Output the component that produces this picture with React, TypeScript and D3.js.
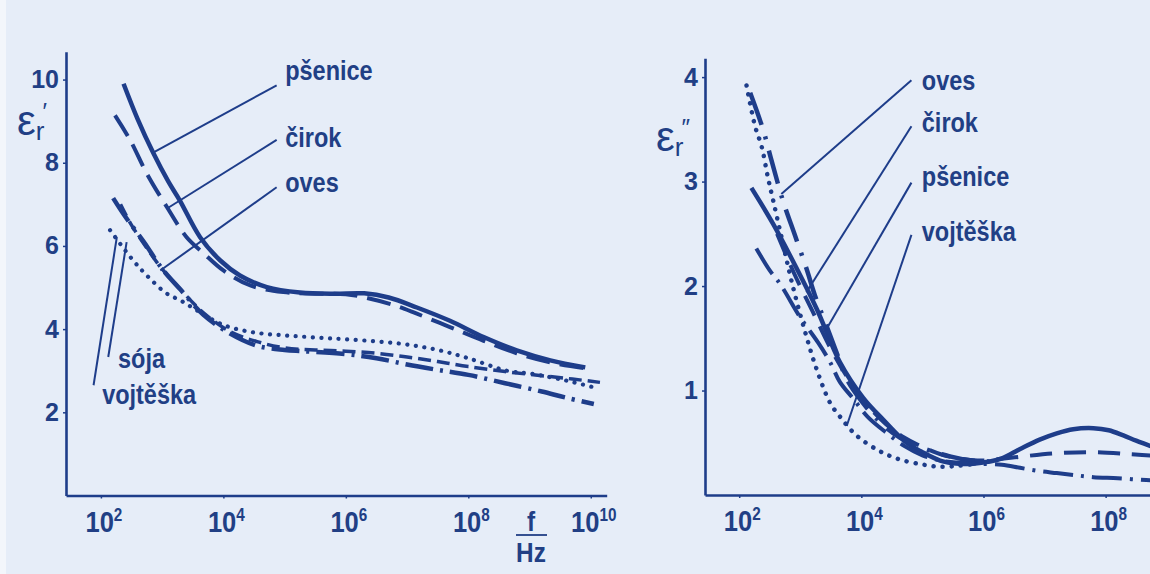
import { useEffect, useRef } from 'react'
import * as d3 from 'd3'

type Pt = [number, number] // [log10(f / Hz), value]

// --- left panel: relative permittivity eps_r'
const psenice1: Pt[] = [[2.37, 9.9], [2.6, 9.05], [2.86, 8.22], [3.1, 7.55], [3.29, 7.09], [3.62, 6.21], [3.95, 5.65], [4.27, 5.29], [4.71, 5.01], [5.25, 4.88], [5.8, 4.85], [6.3, 4.86], [6.7, 4.76], [7.16, 4.52], [7.7, 4.2], [8.25, 3.81], [8.79, 3.49], [9.34, 3.25], [9.91, 3.08]]
const cirok1: Pt[] = [[2.23, 9.14], [2.48, 8.54], [2.75, 7.74], [3.08, 6.93], [3.4, 6.21], [3.68, 5.82], [4.0, 5.41], [4.44, 5.05], [4.98, 4.89], [5.5, 4.85], [6.0, 4.84], [6.34, 4.75], [6.8, 4.57], [7.16, 4.37], [7.7, 4.05], [8.25, 3.72], [8.79, 3.42], [9.34, 3.2], [9.95, 3.05]]
const oves1: Pt[] = [[2.32, 7.0], [2.5, 6.5], [2.75, 5.95], [2.97, 5.5], [3.3, 4.95], [3.67, 4.4], [4.1, 3.95], [4.55, 3.7], [5.0, 3.55], [5.5, 3.5], [6.0, 3.47], [6.5, 3.42], [7.0, 3.33], [7.5, 3.22], [8.0, 3.1], [8.6, 2.98], [9.2, 2.88], [9.7, 2.8], [10.15, 2.72]]
const soja1: Pt[] = [[2.2, 7.15], [2.4, 6.7], [2.7, 6.1], [3.0, 5.45], [3.3, 4.95], [3.67, 4.35], [4.1, 3.9], [4.55, 3.6], [5.0, 3.5], [5.3, 3.47], [6.0, 3.4], [6.5, 3.3], [7.0, 3.15], [7.5, 3.02], [8.0, 2.9], [8.6, 2.7], [9.2, 2.5], [9.6, 2.35], [10.05, 2.2]]
const vojteska1: Pt[] = [[2.15, 6.38], [2.5, 5.7], [2.75, 5.29], [3.07, 4.86], [3.3, 4.69], [3.57, 4.45], [4.0, 4.1], [4.5, 3.92], [5.0, 3.85], [5.5, 3.8], [6.07, 3.75], [6.89, 3.65], [7.5, 3.5], [8.0, 3.3], [8.63, 3.0], [9.06, 2.92], [9.61, 2.76], [10.05, 2.6]]

// --- right panel: loss factor eps_r''
const psenice2: Pt[] = [[2.2, 2.94], [2.56, 2.59], [2.94, 2.17], [3.27, 1.78], [3.65, 1.27], [4.03, 0.93], [4.36, 0.72], [4.74, 0.5], [5.0, 0.41], [5.29, 0.33], [5.6, 0.3], [5.83, 0.3], [6.1, 0.32], [6.3, 0.35], [6.6, 0.44], [6.92, 0.53], [7.2, 0.59], [7.47, 0.63], [7.8, 0.64], [8.05, 0.62], [8.29, 0.57], [8.5, 0.52], [8.73, 0.47], [8.9, 0.43]]
const cirok2: Pt[] = [[2.62, 2.5], [2.9, 2.12], [3.2, 1.76], [3.5, 1.4], [3.8, 1.1], [4.1, 0.86], [4.4, 0.68], [4.7, 0.55], [5.0, 0.46], [5.3, 0.39], [5.6, 0.35], [5.9, 0.33], [6.2, 0.34], [6.65, 0.37], [7.2, 0.4], [7.8, 0.41], [8.4, 0.39], [8.9, 0.37]]
const oves2: Pt[] = [[2.18, 3.85], [2.39, 3.5], [2.53, 3.2], [2.72, 2.81], [2.91, 2.49], [3.1, 2.17], [3.24, 1.91], [3.43, 1.62], [3.59, 1.37], [3.76, 1.11], [4.0, 0.9], [4.3, 0.7], [4.63, 0.55], [5.0, 0.45], [5.45, 0.37], [5.8, 0.33], [6.1, 0.32]]
const soja2: Pt[] = [[2.28, 2.36], [2.5, 2.15], [2.67, 2.02], [3.0, 1.7], [3.29, 1.46], [3.49, 1.27], [3.65, 1.08], [3.87, 0.92], [4.1, 0.75], [4.4, 0.6], [4.7, 0.47], [5.0, 0.38], [5.3, 0.33], [5.6, 0.31], [5.9, 0.3], [6.3, 0.29], [6.6, 0.26], [6.9, 0.23], [7.2, 0.21], [7.5, 0.19], [7.8, 0.17], [8.2, 0.16], [8.73, 0.14], [8.9, 0.14]]
const vojteska2: Pt[] = [[2.12, 3.92], [2.26, 3.53], [2.37, 3.33], [2.47, 3.04], [2.56, 2.81], [2.7, 2.45], [2.86, 2.04], [3.08, 1.56], [3.27, 1.2], [3.49, 0.88], [3.65, 0.75], [3.92, 0.57], [4.3, 0.42], [4.63, 0.34], [5.02, 0.29], [5.29, 0.27], [5.6, 0.28], [5.9, 0.3]]

// ticks
const xTicksLeft = [2, 4, 6, 8, 10]
const xTicksRight = [2, 4, 6, 8]
const yTicksLeft = [2, 4, 6, 8, 10]
const yTicksRight = [1, 2, 3, 4]

// annotations (data units: log f, value)
const leftLabels = ['pšenice', 'čirok', 'oves', 'sója', 'vojtěška']
const leftLabelPos: Pt[] = [[5.01, 9.98], [5.01, 8.37], [5.01, 7.29], [2.28, 3.06], [2.02, 2.2]]
const leftLeaderFrom: Pt[] = [[4.87, 9.86], [4.87, 8.55], [4.87, 7.41], [2.12, 3.33], [1.88, 2.65]]
const leftLeaderTo: Pt[] = [[2.86, 8.25], [3.08, 6.9], [2.97, 5.41], [2.42, 6.09], [2.26, 6.21]]

const rightLabels = ['oves', 'čirok', 'pšenice', 'vojtěška']
const rightLabelPos: Pt[] = [[4.99, 3.88], [4.99, 3.47], [4.99, 2.96], [4.99, 2.43]]
const rightLeaderFrom: Pt[] = [[4.82, 3.97], [4.82, 3.53], [4.82, 2.99], [4.82, 2.49]]
const rightLeaderTo: Pt[] = [[2.69, 2.88], [3.1, 1.94], [3.43, 1.59], [3.76, 0.66]]

const INK = '#1e3d8a'
const TXT = '#213f85'
const BG = '#e6edf8'
const FONT = "'Liberation Sans', Arial, sans-serif"
const SQUEEZE = 0.87 // narrow bold lettering in the original

interface LineStyle {
  data: Pt[]
  dash: string | null
  width: number
  cap?: string
}

interface Panel {
  xDomain: [number, number]
  xRange: [number, number]
  yDomain: [number, number]
  yRange: [number, number]
  xTicks: number[]
  yTicks: number[]
  series: LineStyle[]
  labels: string[]
  labelPos: Pt[]
  from: Pt[]
  to: Pt[]
  symbolX: number
  symbolY: number
  prime: string
}

export default function App() {
  const ref = useRef<SVGSVGElement | null>(null)

  useEffect(() => {
    if (!ref.current) return
    const svg = d3.select(ref.current)
    svg.selectAll('*').remove()

    svg.append('rect').attr('width', 1150).attr('height', 574).attr('fill', BG)
    svg.append('rect').attr('width', 6).attr('height', 574).attr('fill', '#f3f6fb')

    const panels: Panel[] = [
      {
        xDomain: [10 ** 1.43, 10 ** 10.26],
        xRange: [66, 606.7],
        yDomain: [0, 10.67],
        yRange: [495.5, 51.7],
        xTicks: xTicksLeft,
        yTicks: yTicksLeft,
        series: [
          { data: psenice1, dash: null, width: 4.5 },
          { data: cirok1, dash: '24 10', width: 4 },
          { data: oves1, dash: '13 6', width: 3.5 },
          { data: soja1, dash: '28 7 3 7', width: 4.5 },
          { data: vojteska1, dash: '0.1 8.5', width: 4.2, cap: 'round' },
        ],
        labels: leftLabels,
        labelPos: leftLabelPos,
        from: leftLeaderFrom,
        to: leftLeaderTo,
        symbolX: 17,
        symbolY: 135,
        prime: '\u2032',
      },
      {
        xDomain: [10 ** 1.44, 10 ** 9.0],
        xRange: [705, 1166.7],
        yDomain: [0, 4.18],
        yRange: [495, 58.3],
        xTicks: xTicksRight,
        yTicks: yTicksRight,
        series: [
          { data: psenice2, dash: null, width: 4.5 },
          { data: cirok2, dash: '22 12', width: 4 },
          { data: oves2, dash: '34 12 3 12', width: 4.5 },
          { data: soja2, dash: '30 8 3 8', width: 4 },
          { data: vojteska2, dash: '0.1 9', width: 4.5, cap: 'round' },
        ],
        labels: rightLabels,
        labelPos: rightLabelPos,
        from: rightLeaderFrom,
        to: rightLeaderTo,
        symbolX: 656,
        symbolY: 151,
        prime: '\u2033',
      },
    ]

    panels.forEach((p) => {
      const x = d3.scaleLog().domain(p.xDomain).range(p.xRange)
      const y = d3.scaleLinear().domain(p.yDomain).range(p.yRange)
      const g = svg.append('g')

      // x axis
      const xAxis = g
        .append('g')
        .attr('transform', `translate(0,${p.yRange[0]})`)
        .call(
          d3
            .axisBottom(x)
            .tickValues(p.xTicks.map((e) => 10 ** e))
            .tickFormat(() => '')
            .tickSize(3)
            .tickSizeOuter(0),
        )
      xAxis.select('.domain').attr('stroke', INK).attr('stroke-width', 2.6)
      xAxis.selectAll('.tick line').attr('stroke', INK).attr('stroke-width', 1.5)

      const xl = g
        .selectAll('.xlab')
        .data(p.xTicks)
        .enter()
        .append('text')
        .attr('class', 'xlab')
        .attr('transform', (e) => `translate(${x(10 ** e) + 3},${p.yRange[0] + 36}) scale(0.85,1)`)
        .attr('text-anchor', 'middle')
        .attr('font-family', FONT)
        .attr('font-weight', 'bold')
        .attr('font-size', 30)
        .attr('fill', TXT)
      xl.append('tspan').text('10')
      xl.append('tspan')
        .attr('dy', -11)
        .attr('font-size', 18)
        .text((e) => String(e))

      // y axis
      const yAxis = g
        .append('g')
        .attr('transform', `translate(${p.xRange[0]},0)`)
        .call(
          d3
            .axisLeft(y)
            .tickValues(p.yTicks)
            .tickFormat(d3.format('d'))
            .tickSize(3)
            .tickSizeOuter(0),
        )
      yAxis.select('.domain').attr('stroke', INK).attr('stroke-width', 2.6)
      yAxis.selectAll('.tick line').attr('stroke', INK).attr('stroke-width', 1.5)
      yAxis
        .selectAll('.tick text')
        .attr('fill', TXT)
        .attr('font-family', FONT)
        .attr('font-weight', 'bold')
        .attr('font-size', 25)
        .attr('dx', -1)

      // curves
      const line = d3
        .line<Pt>()
        .x((d) => x(10 ** d[0]))
        .y((d) => y(d[1]))
        .curve(d3.curveCatmullRom.alpha(0.5))

      p.series.forEach((s) => {
        g.append('path')
          .attr('d', line(s.data) ?? '')
          .attr('fill', 'none')
          .attr('stroke', INK)
          .attr('stroke-width', s.width)
          .attr('stroke-dasharray', s.dash ?? null)
          .attr('stroke-linecap', s.cap ?? 'butt')
          .attr('stroke-linejoin', 'round')
      })

      // leader lines + labels
      g.selectAll('.leader')
        .data(p.labels)
        .enter()
        .append('line')
        .attr('class', 'leader')
        .attr('x1', (_, i) => x(10 ** p.from[i][0]))
        .attr('y1', (_, i) => y(p.from[i][1]))
        .attr('x2', (_, i) => x(10 ** p.to[i][0]))
        .attr('y2', (_, i) => y(p.to[i][1]))
        .attr('stroke', INK)
        .attr('stroke-width', 2)

      g.selectAll('.lab')
        .data(p.labels)
        .enter()
        .append('text')
        .attr('class', 'lab')
        .attr(
          'transform',
          (_, i) => `translate(${x(10 ** p.labelPos[i][0])},${y(p.labelPos[i][1])}) scale(${SQUEEZE},1)`,
        )
        .attr('font-family', FONT)
        .attr('font-weight', 'bold')
        .attr('font-size', 27)
        .attr('fill', TXT)
        .text((d) => d)

      // axis symbol eps_r
      const sym = g
        .append('text')
        .attr('x', p.symbolX)
        .attr('y', p.symbolY)
        .attr('font-family', FONT)
        .attr('font-size', 42)
        .attr('fill', TXT)
      sym.append('tspan').text('ε')
      sym.append('tspan').attr('font-size', 26).attr('dy', 5).text('r')
      sym.append('tspan').attr('font-size', 24).attr('dx', -2).attr('dy', -20).text(p.prime)
    })

    // f / Hz unit label under left axis
    const fx = 531
    const unit = svg
      .append('g')
      .attr('font-family', FONT)
      .attr('font-weight', 'bold')
      .attr('font-size', 28)
      .attr('fill', TXT)
      .attr('text-anchor', 'middle')
    unit.append('text').attr('transform', `translate(${fx},531) scale(${SQUEEZE},1)`).text('f')
    unit
      .append('line')
      .attr('x1', fx - 15)
      .attr('x2', fx + 16)
      .attr('y1', 535)
      .attr('y2', 535)
      .attr('stroke', TXT)
      .attr('stroke-width', 1.8)
    unit.append('text').attr('transform', `translate(${fx},562) scale(${SQUEEZE},1)`).text('Hz')
  }, [])

  return (
    <svg
      ref={ref}
      width={1150}
      height={574}
      viewBox="0 0 1150 574"
      style={{ position: 'absolute', left: 0, top: 0, display: 'block' }}
      role="img"
      aria-label="Permitivita a ztrátový činitel semen v závislosti na frekvenci"
    />
  )
}
